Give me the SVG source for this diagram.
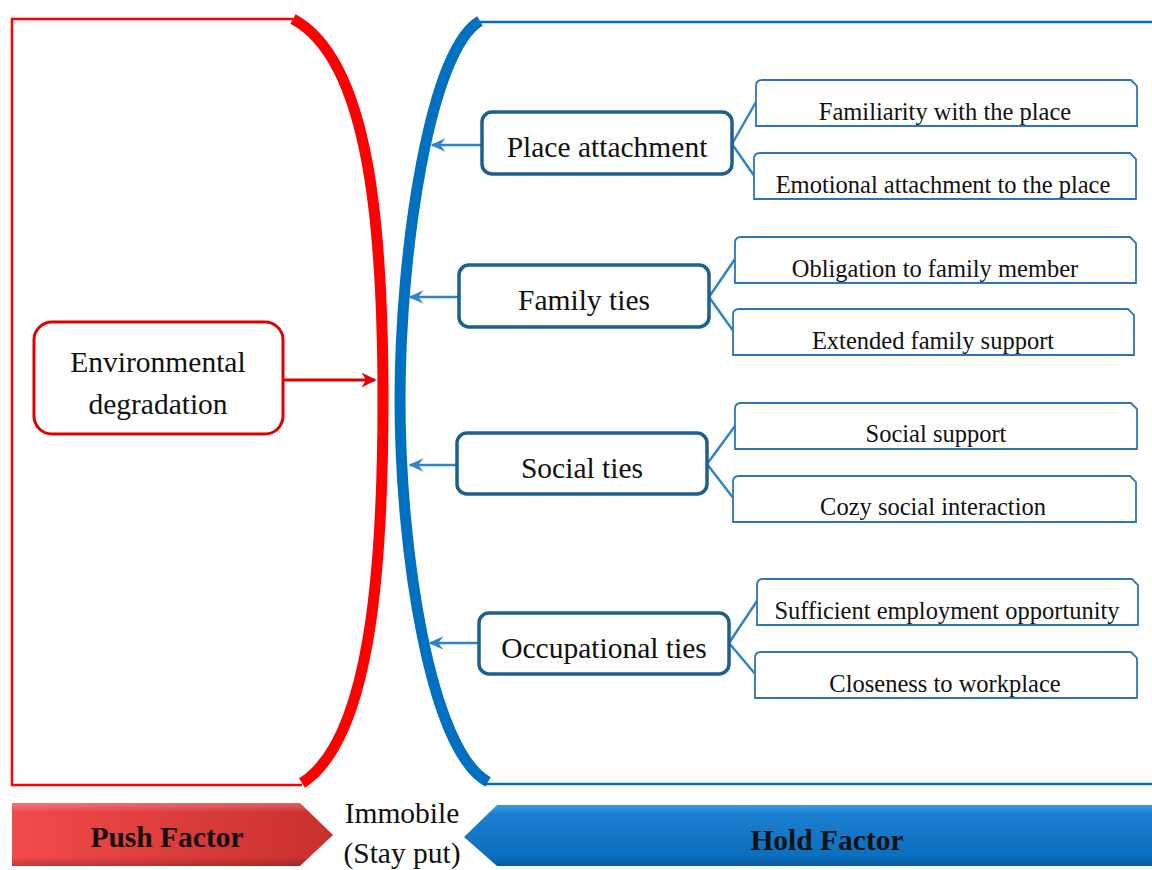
<svg xmlns="http://www.w3.org/2000/svg" width="1152" height="870" viewBox="0 0 1152 870">
<defs>
<style>
text{font-family:"Liberation Serif","Times New Roman",serif;fill:#111;text-anchor:middle}
.main{font-size:29.5px}
.leaf{font-size:24.5px}
.big{font-size:29.5px;font-weight:bold}
.mnode{fill:#fff;stroke:#1F5F8C;stroke-width:3.5}
.lnode{fill:#fff;stroke:#2E75B6;stroke-width:1.8}
.conn{stroke:#2E86C8;stroke-width:2.5;fill:none}
.harr{stroke:#2E86C8;stroke-width:2.5;fill:none;marker-end:url(#ba)}
</style>
<marker id="ra" viewBox="0 0 10 10" refX="9" refY="5" markerWidth="5" markerHeight="5" orient="auto" markerUnits="strokeWidth">
<path d="M0,0 L10,5 L0,10 L3,5 z" fill="#E00000"/>
</marker>
<marker id="ba" viewBox="0 0 10 10" refX="9" refY="5" markerWidth="6" markerHeight="6" orient="auto" markerUnits="strokeWidth">
<path d="M0,0.5 L10,5 L0,9.5 L3.5,5 z" fill="#2E86C8"/>
</marker>
<linearGradient id="gr" x1="0" y1="0" x2="1" y2="0">
<stop offset="0" stop-color="#F24A4A"/>
<stop offset="1" stop-color="#C8302E"/>
</linearGradient>
<linearGradient id="gb" x1="0" y1="0" x2="0" y2="1">
<stop offset="0" stop-color="#3A9AE0"/>
<stop offset="0.15" stop-color="#1C7ED0"/>
<stop offset="0.85" stop-color="#0A6FBF"/>
<stop offset="1" stop-color="#0A5A9A"/>
</linearGradient>
<linearGradient id="gr2" x1="0" y1="0" x2="0" y2="1">
<stop offset="0" stop-color="#fff" stop-opacity="0.25"/>
<stop offset="0.15" stop-color="#fff" stop-opacity="0"/>
<stop offset="0.85" stop-color="#000" stop-opacity="0"/>
<stop offset="1" stop-color="#000" stop-opacity="0.2"/>
</linearGradient>
</defs>
<rect width="1152" height="870" fill="#fff"/>

<g id="push-bracket">
<path d="M293,19 L12,19 L12,785 L302,785" fill="none" stroke="#FF0000" stroke-width="2.5"/>
<path d="M293,19 C370,60 383,230 383,400 C383,570 370,740 302,783" fill="none" stroke="#FF0000" stroke-width="11"/>
</g>
<g id="hold-bracket">
<path d="M480,22 L1152,22 M486,784 L1152,784" fill="none" stroke="#0070C0" stroke-width="2.5"/>
<path d="M480,21 C430,50 400,250 400,400 C400,550 430,750 488,782" fill="none" stroke="#0070C0" stroke-width="11"/>
</g>

<g id="connectors">
<line x1="284" y1="380" x2="375" y2="380" stroke="#E00000" stroke-width="3" marker-end="url(#ra)"/>
<line class="harr" x1="482" y1="145" x2="432" y2="145"/>
<line class="harr" x1="459" y1="297" x2="410" y2="297"/>
<line class="harr" x1="457" y1="465" x2="410" y2="465"/>
<line class="harr" x1="479" y1="643" x2="430" y2="643"/>
<path class="conn" d="M732,144 L756,102 M732,144 L755,177"/>
<path class="conn" d="M709,297 L735,259 M709,297 L734,332"/>
<path class="conn" d="M707,464 L735,426 M707,464 L734,499"/>
<path class="conn" d="M729,643 L757,601 M729,643 L756,675"/>
</g>

<g id="env">
<rect x="34" y="322" width="249" height="112" rx="18" fill="#fff" stroke="#E00000" stroke-width="3"/>
<text class="main" x="158" y="372">Environmental</text>
<text class="main" x="158" y="414">degradation</text>
</g>

<g id="place">
<rect class="mnode" x="482" y="112" width="250" height="62" rx="10"/>
<text class="main" x="607" y="157">Place attachment</text>
</g>
<g id="family">
<rect class="mnode" x="459" y="265" width="250" height="62" rx="10"/>
<text class="main" x="584" y="310">Family ties</text>
</g>
<g id="social">
<rect class="mnode" x="457" y="433" width="250" height="61" rx="10"/>
<text class="main" x="582" y="478">Social ties</text>
</g>
<g id="occupational">
<rect class="mnode" x="479" y="613" width="250" height="61" rx="10"/>
<text class="main" x="604" y="658">Occupational ties</text>
</g>

<g id="leaf-pa1">
<path class="lnode" d="M756,126 L756,86 Q756,80 762,80 L1131,80 L1137,86 L1137,126 Z"/>
<text class="leaf" x="945" y="120">Familiarity with the place</text>
</g>
<g id="leaf-pa2">
<path class="lnode" d="M754,199 L754,159 Q754,153 760,153 L1130,153 L1136,159 L1136,199 Z"/>
<text class="leaf" x="943" y="193">Emotional attachment to the place</text>
</g>
<g id="leaf-ft1">
<path class="lnode" d="M735,283 L735,243 Q735,237 741,237 L1130,237 L1136,243 L1136,283 Z"/>
<text class="leaf" x="935" y="277">Obligation to family member</text>
</g>
<g id="leaf-ft2">
<path class="lnode" d="M733,355 L733,315 Q733,309 739,309 L1128,309 L1134,315 L1134,355 Z"/>
<text class="leaf" x="933" y="349">Extended family support</text>
</g>
<g id="leaf-st1">
<path class="lnode" d="M735,449 L735,409 Q735,403 741,403 L1131,403 L1137,409 L1137,449 Z"/>
<text class="leaf" x="936" y="442">Social support</text>
</g>
<g id="leaf-st2">
<path class="lnode" d="M733,522 L733,482 Q733,476 739,476 L1130,476 L1136,482 L1136,522 Z"/>
<text class="leaf" x="933" y="515">Cozy social interaction</text>
</g>
<g id="leaf-ot1">
<path class="lnode" d="M757,625 L757,585 Q757,579 763,579 L1132,579 L1138,585 L1138,625 Z"/>
<text class="leaf" x="947" y="619">Sufficient employment opportunity</text>
</g>
<g id="leaf-ot2">
<path class="lnode" d="M755,698 L755,658 Q755,652 761,652 L1131,652 L1137,658 L1137,698 Z"/>
<text class="leaf" x="945" y="692">Closeness to workplace</text>
</g>

<g id="push-factor">
<path d="M12,803 L300,803 L333,835 L300,866 L12,866 Z" fill="url(#gr)"/>
<path d="M12,803 L300,803 L333,835 L300,866 L12,866 Z" fill="url(#gr2)"/>
<text class="big" x="167" y="847">Push Factor</text>
</g>
<g id="immobile">
<text class="main" x="402" y="823">Immobile</text>
<text class="main" x="402" y="863">(Stay put)</text>
</g>
<g id="hold-factor">
<path d="M464,837 L497,805 L1152,805 L1152,866 L497,866 Z" fill="url(#gb)"/>
<text class="big" x="827" y="850">Hold Factor</text>
</g>
</svg>
